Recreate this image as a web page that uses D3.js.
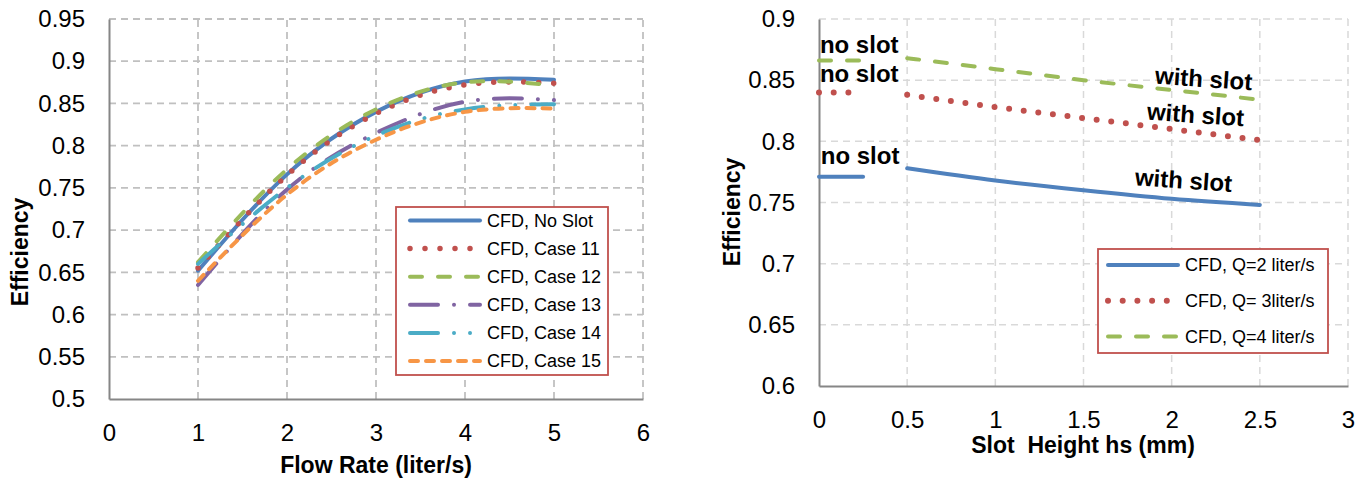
<!DOCTYPE html>
<html>
<head>
<meta charset="utf-8">
<script src="https://cdn.jsdelivr.net/npm/d3@7"></script>
<style>
  body { margin: 0; background: #fff; }
  svg { display: block; font-family: 'Liberation Sans', Arial, sans-serif; }
</style>
</head>
<body>
<svg id="chart" width="1371" height="479"></svg>
<script>
// ---- Left panel: efficiency vs flow rate ----
const flowRates = [1, 2, 3, 4, 5];
const effNoSlot = [0.652, 0.766, 0.840, 0.876, 0.878];
const effCase11 = [0.655, 0.765, 0.838, 0.872, 0.874];
const effCase12 = [0.662, 0.772, 0.843, 0.875, 0.871];
const effCase13 = [0.635, 0.748, 0.815, 0.852, 0.854];
const effCase14 = [0.660, 0.750, 0.812, 0.843, 0.849];
const effCase15 = [0.640, 0.742, 0.807, 0.840, 0.844];
const leftSeriesNames = ["CFD, No Slot", "CFD, Case 11", "CFD, Case 12", "CFD, Case 13", "CFD, Case 14", "CFD, Case 15"];
const leftXTicks = [0, 1, 2, 3, 4, 5, 6];
const leftYTicks = [0.5, 0.55, 0.6, 0.65, 0.7, 0.75, 0.8, 0.85, 0.9, 0.95];

// ---- Right panel: efficiency vs slot height ----
const noSlotHeights = [0, 0.25];
const slotHeights = [0.5, 1, 1.5, 2, 2.5];
const effQ2NoSlot = [0.771, 0.771];
const effQ3NoSlot = [0.840, 0.840];
const effQ4NoSlot = [0.866, 0.866];
const effQ2Slot = [0.778, 0.768, 0.760, 0.753, 0.748];
const effQ3Slot = [0.838, 0.828, 0.819, 0.810, 0.801];
const effQ4Slot = [0.868, 0.859, 0.850, 0.842, 0.834];
const rightSeriesNames = ["CFD, Q=2 liter/s", "CFD, Q= 3liter/s", "CFD, Q=4 liter/s"];
const rightXTicks = [0, 0.5, 1, 1.5, 2, 2.5, 3];
const rightYTicks = [0.6, 0.65, 0.7, 0.75, 0.8, 0.85, 0.9];

// Line styles (Office palette)
const styles = {
  solidBlue:   { color: "#4f81bd", width: 4,   dash: null },
  dotRed:      { color: "#c0504d", width: 5.5, dash: "0,15" },
  dashGreen:   { color: "#9bbb59", width: 4,   dash: "12,16" },
  dashDotPurp: { color: "#8064a2", width: 4,   dash: "28,16,0.01,16" },
  dashDotDotC: { color: "#4bacc6", width: 4,   dash: "28,16,0.01,16,0.01,16" },
  shortDashOr: { color: "#f79646", width: 4,   dash: "8,8" }
};

const svg = d3.select("#chart");
const fmt = d => String(+d.toFixed(2));

function applyStyle(sel, st) {
  sel.attr("fill", "none")
    .attr("stroke", st.color)
    .attr("stroke-width", st.width)
    .attr("stroke-linecap", "round")
    .attr("stroke-linejoin", "round");
  if (st.dash) sel.attr("stroke-dasharray", st.dash);
  return sel;
}

function drawFrame(x, y, xTicks, yTicks, gridColor, gridWidth) {
  const g = svg.append("g");
  const [x0, x1] = x.range();
  const [y0, y1] = y.range();
  // horizontal gridlines
  g.selectAll(".hg").data(yTicks.slice(1)).join("line")
    .attr("x1", x0).attr("x2", x1)
    .attr("y1", d => y(d)).attr("y2", d => y(d))
    .attr("stroke", gridColor).attr("stroke-width", gridWidth)
    .attr("stroke-dasharray", "7,5");
  // vertical gridlines
  g.selectAll(".vg").data(xTicks.slice(1)).join("line")
    .attr("x1", d => x(d)).attr("x2", d => x(d))
    .attr("y1", y0).attr("y2", y1)
    .attr("stroke", gridColor).attr("stroke-width", gridWidth)
    .attr("stroke-dasharray", "7,5");

  const ax = svg.append("g").attr("transform", `translate(0,${y0})`)
    .call(d3.axisBottom(x).tickValues(xTicks).tickFormat(fmt).tickSize(0).tickPadding(25));
  const ay = svg.append("g").attr("transform", `translate(${x0},0)`)
    .call(d3.axisLeft(y).tickValues(yTicks).tickFormat(fmt).tickSize(0).tickPadding(24));
  [ax, ay].forEach(a => {
    a.select(".domain").attr("stroke", "#868686").attr("stroke-width", 2);
    a.selectAll("text").attr("font-size", 24).attr("fill", "#000")
      .attr("font-family", "'Liberation Sans', Arial, sans-serif");
  });
}

function drawSeries(x, y, xs, ys, st, curve) {
  const line = d3.line().x(d => x(d[0])).y(d => y(d[1])).curve(curve);
  applyStyle(svg.append("path").attr("d", line(d3.zip(xs, ys))), st);
}

function drawLegend(box, rows, lineX0, lineX1, textX) {
  svg.append("rect")
    .attr("x", box.x).attr("y", box.y).attr("width", box.w).attr("height", box.h)
    .attr("fill", "#fff").attr("stroke", "#c0504d").attr("stroke-width", 1.8);
  rows.forEach(r => {
    applyStyle(svg.append("line").attr("x1", lineX0).attr("x2", lineX1)
      .attr("y1", r.y).attr("y2", r.y), r.style);
    svg.append("text").attr("x", textX).attr("y", r.y).attr("dy", "0.35em")
      .attr("font-size", 18).attr("fill", "#000").text(r.name);
  });
}

// ================= Left chart =================
const xL = d3.scaleLinear().domain([0, 6]).range([109, 643]);
const yL = d3.scaleLinear().domain([0.5, 0.95]).range([399, 19]);
drawFrame(xL, yL, leftXTicks, leftYTicks, "#c0c0c0", 1.8);

const leftData = [effNoSlot, effCase11, effCase12, effCase13, effCase14, effCase15];
const leftStyles = [styles.solidBlue, styles.dotRed, styles.dashGreen, styles.dashDotPurp, styles.dashDotDotC, styles.shortDashOr];
leftData.forEach((vals, i) => drawSeries(xL, yL, flowRates, vals, leftStyles[i], d3.curveNatural));

svg.append("text").attr("x", 376).attr("y", 473).attr("text-anchor", "middle")
  .attr("font-size", 23).attr("font-weight", "bold").text("Flow Rate (liter/s)");
svg.append("text").attr("transform", "translate(28,252) rotate(-90)").attr("text-anchor", "middle")
  .attr("font-size", 23).attr("font-weight", "bold").text("Efficiency");

drawLegend({ x: 396, y: 207, w: 212, h: 168 },
  leftSeriesNames.map((n, i) => ({ name: n, y: 220.5 + 28.1 * i, style: leftStyles[i] })),
  410, 480, 487);

// ================= Right chart =================
const xR = d3.scaleLinear().domain([0, 3]).range([819, 1348]);
const yR = d3.scaleLinear().domain([0.6, 0.9]).range([386, 19]);
drawFrame(xR, yR, rightXTicks, rightYTicks, "#d9d9d9", 1.5);

const rightStyles = [styles.solidBlue, { ...styles.dotRed, width: 6, dash: "0,14.7" }, styles.dashGreen];
[effQ2NoSlot, effQ3NoSlot, effQ4NoSlot].forEach((vals, i) => drawSeries(xR, yR, noSlotHeights, vals, rightStyles[i], d3.curveLinear));
[effQ2Slot, effQ3Slot, effQ4Slot].forEach((vals, i) => drawSeries(xR, yR, slotHeights, vals, rightStyles[i], d3.curveNatural));

// slot annotations
const notes = [
  { text: "no slot", h: 0.005, e: 0.8722, rot: 0, anchor: "start" },
  { text: "no slot", h: 0.005, e: 0.8485, rot: 0, anchor: "start" },
  { text: "no slot", h: 0.01,  e: 0.7815, rot: 0, anchor: "start" },
  { text: "with slot", h: 2.178, e: 0.8444, rot: 4, anchor: "middle" },
  { text: "with slot", h: 2.132, e: 0.8150, rot: 4, anchor: "middle" },
  { text: "with slot", h: 2.064, e: 0.7614, rot: 4, anchor: "middle" }
];
notes.forEach(n => {
  svg.append("text")
    .attr("transform", `translate(${xR(n.h)},${yR(n.e)}) rotate(${n.rot})`)
    .attr("text-anchor", n.anchor).attr("font-size", 24).attr("font-weight", "bold")
    .attr("fill", "#000").text(n.text);
});

svg.append("text").attr("x", 1083).attr("y", 453).attr("text-anchor", "middle")
  .attr("font-size", 23).attr("font-weight", "bold").style("white-space", "pre")
  .text("Slot  Height hs (mm)");
svg.append("text").attr("transform", "translate(740,212) rotate(-90)").attr("text-anchor", "middle")
  .attr("font-size", 23).attr("font-weight", "bold").text("Efficiency");

drawLegend({ x: 1098, y: 249, w: 230, h: 104 },
  rightSeriesNames.map((n, i) => ({ name: n, y: 265 + 35.8 * i, style: rightStyles[i] })),
  1108, 1178, 1185);
</script>
</body>
</html>
